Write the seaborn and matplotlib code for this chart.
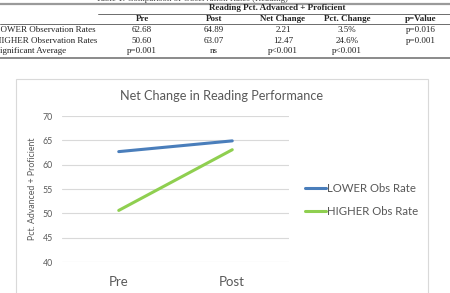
import matplotlib
matplotlib.use("Agg")
import matplotlib.pyplot as plt
import seaborn as sns
import pandas as pd
from matplotlib.patches import Rectangle
from matplotlib.lines import Line2D

# ---- data ----
periods = ["Pre", "Post"]
lower_vals = [62.68, 64.89]
higher_vals = [50.60, 63.07]
series_names = ["LOWER Obs Rate", "HIGHER Obs Rate"]
yticks = [40, 45, 50, 55, 60, 65, 70]

table_cols = ["Pre", "Post", "Net Change", "Pct. Change", "p=Value"]
table_rows = ["LOWER Observation Rates", "HIGHER Observation Rates", "Significant Average"]
row_lower = ["62.68", "64.89", "2.21", "3.5%", "p=0.016"]
row_higher = ["50.60", "63.07", "12.47", "24.6%", "p=0.001"]
row_sig = ["p=0.001", "ns", "p<0.001", "p<0.001", ""]

df = pd.DataFrame({
    "Period": periods * 2,
    "Value": lower_vals + higher_vals,
    "Series": [series_names[0]] * 2 + [series_names[1]] * 2,
})

sns.set_theme(style="white")
W, H = 450, 293
fig = plt.figure(figsize=(4.5, 2.93), dpi=100)
fig.patch.set_facecolor("white")

def fx(x):
    return x / W

def fy(y):
    return 1 - y / H

serif = ["Liberation Serif", "DejaVu Serif"]
tcol = "#222222"
tfs = 6.5

# ---- table ----
fig.text(fx(192), fy(-1.0), "Table 1: Comparison of Observation Rates (Reading)",
         ha="center", va="center", fontsize=tfs, family=serif, color="#444444")
fig.add_artist(Line2D([0, 1], [fy(4), fy(4)], color="#9a9a9a", lw=1.6))
fig.add_artist(Line2D([fx(98), 1], [fy(13.5), fy(13.5)], color="#555555", lw=0.6))
fig.add_artist(Line2D([0, 1], [fy(24), fy(24)], color="#555555", lw=0.6))
fig.add_artist(Line2D([0, 1], [fy(57.5), fy(57.5)], color="#777777", lw=1.2))

fig.text(fx(277), fy(8.5), "Reading Pct. Advanced + Proficient", ha="center", va="center",
         fontsize=tfs, family=serif, weight="bold", color=tcol)
col_x = [142, 214, 283, 347, 421]
for cx, c in zip(col_x, table_cols):
    fig.text(fx(cx), fy(19), c, ha="center", va="center", fontsize=tfs,
             family=serif, weight="bold", color=tcol)
row_y = [30.5, 41, 51]
for ry, lab, vals in zip(row_y, table_rows, [row_lower, row_higher, row_sig]):
    fig.text(fx(-5), fy(ry), lab, ha="left", va="center", fontsize=tfs, family=serif, color=tcol)
    for cx, v in zip(col_x, vals):
        fig.text(fx(cx), fy(ry), v, ha="center", va="center", fontsize=tfs, family=serif, color=tcol)

# ---- chart box ----
fig.add_artist(Rectangle((fx(16), fy(300)), fx(428) - fx(16), fy(79) - fy(300),
                         transform=fig.transFigure, fill=False, edgecolor="#d9d9d9", lw=0.8))

ax = fig.add_axes([fx(62), fy(262), fx(289) - fx(62), fy(116) - fy(262)])
sns.lineplot(data=df, x="Period", y="Value", hue="Series",
             palette=["#4a7ebb", "#8fcf50"], linewidth=2.2, ax=ax, sort=False)
ax.set_xlim(-0.5, 1.5)
ax.set_ylim(40, 70)
ax.set_yticks(yticks)
ax.set_yticklabels([str(t) for t in yticks])
ax.grid(axis="y", color="#d9d9d9", lw=0.8)
ax.grid(axis="x", visible=False)
ax.set_axisbelow(True)
for s in ax.spines.values():
    s.set_visible(False)
ax.tick_params(axis="y", length=0, labelsize=6.3, labelcolor="#595959", pad=6.5)
ax.tick_params(axis="x", length=0, labelsize=9.5, labelcolor="#595959", pad=10)
for lab in ax.get_xticklabels() + ax.get_yticklabels():
    lab.set_family("Lato")
ax.set_xlabel("")
ax.set_ylabel("Pct. Advanced + Proficient", fontsize=6.3, color="#595959", family="Lato", labelpad=4)

fig.text(fx(222), fy(96), "Net Change in Reading Performance", ha="center", va="center",
         fontsize=9.2, family="Lato", color="#595959")

leg = ax.legend(loc="center left", bbox_to_anchor=(fx(295), fy(200)), bbox_transform=fig.transFigure,
                frameon=False, fontsize=8.2, handlelength=1.8, handletextpad=0.1, labelspacing=1.0)
for t in leg.get_texts():
    t.set_color("#595959")
    t.set_family("Lato")
for h in leg.get_lines():
    h.set_linewidth(2.2)

fig.savefig("out.png", dpi=100, facecolor="white")
